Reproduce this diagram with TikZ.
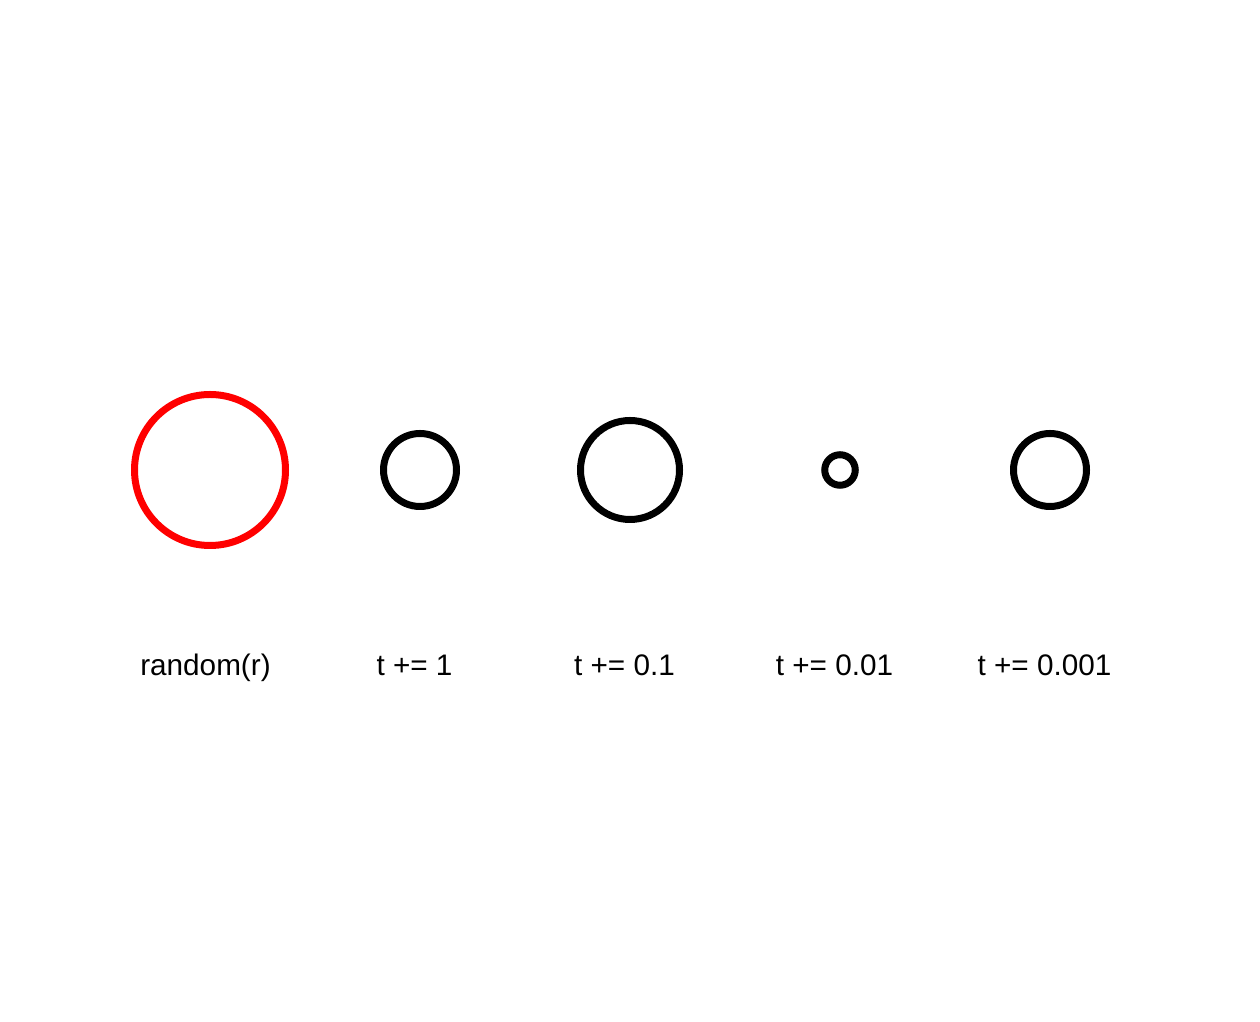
\documentclass[tikz,border=0pt]{standalone}
\usepackage{fontspec}
\setmainfont{Liberation Sans}
\usetikzlibrary{positioning}

\begin{document}
\begin{tikzpicture}[font=\fontsize{16.9pt}{20pt}\selectfont, ring/.style={draw, circle, line width=0.14cm, inner sep=0pt}, lbl/.style={inner sep=0pt, anchor=base}]
\useasboundingbox (0,0) rectangle (25.2,20.44);
\node[ring, draw=red, minimum size=3.02cm] (rnd) at (4.2,11.04) {};
\node[ring, minimum size=1.46cm] (one) at (8.4,11.04) {};
\node[ring, minimum size=1.98cm] (tenth) at (12.6,11.04) {};
\node[ring, minimum size=0.61cm] (hundredth) at (16.8,11.04) {};
\node[ring, minimum size=1.46cm] (thousandth) at (21.0,11.04) {};
\node[lbl] (rndlbl) at (4.11,6.93) {random(r)};
\node[lbl] (onelbl) at (8.29,6.93) {t += 1};
\node[lbl] (tenthlbl) at (12.49,6.93) {t += 0.1};
\node[lbl] (hundredthlbl) at (16.69,6.93) {t += 0.01};
\node[lbl] (thousandthlbl) at (20.89,6.93) {t += 0.001};
\end{tikzpicture}
\end{document}
